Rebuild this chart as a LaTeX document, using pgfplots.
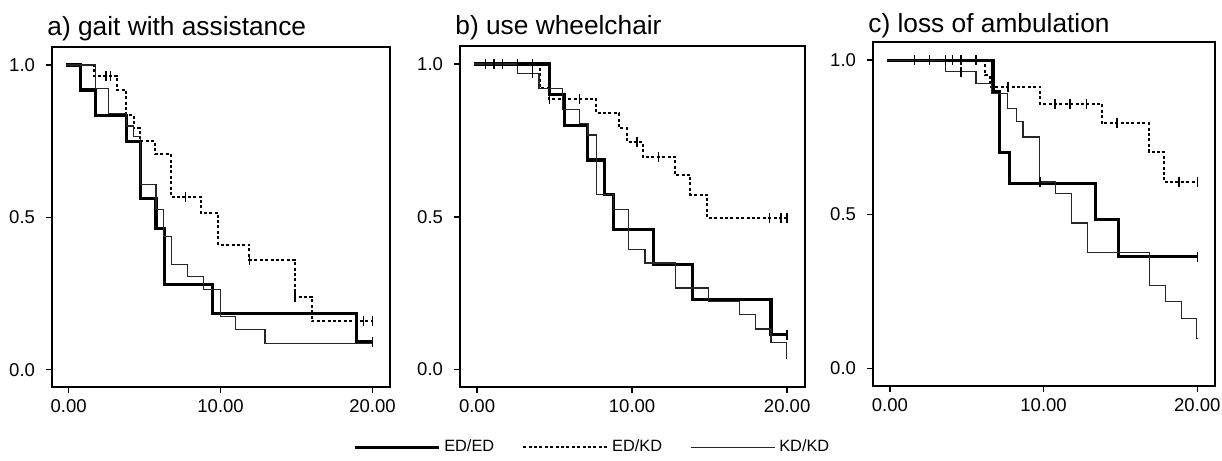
\documentclass[border=0pt]{standalone}
\usepackage{fontspec}
\setmainfont{Liberation Sans}
\usepackage{pgfplots}
\pgfplotsset{compat=1.18}

\pgfplotsset{
  km/.style={
    scale only axis,
    xmin=-1.1, xmax=21.15, ymin=-0.057, ymax=1.059,
    xtick={0,10,20}, xticklabels={0.00,10.00,20.00},
    ytick={0,0.5,1}, yticklabels={0.0,0.5,1.0},
    tick pos=left, tick align=outside, major tick length=3bp,
    axis line style={line width=0.9bp},
    tick style={line width=0.7bp, black},
    tick label style={font=\fontsize{9.3}{11}\selectfont},
    yticklabel style={xshift=-2bp},
    title style={at={(0,1)}, anchor=base west, xshift=-2.5bp, yshift=0bp,
      inner sep=0pt, font=\fontsize{13.2}{15}\selectfont},
  },
  eded/.style={const plot, black, line width=1.6bp, no marks},
  edkd/.style={const plot, black, line width=1bp, dash pattern=on 1.5bp off 1.2bp, no marks},
  kdkd/.style={const plot, black!85, line width=0.6bp, no marks},
  cens/.style={only marks, mark=|, mark size=2.5bp, black,
    mark options={solid, line width=0.8bp}, forget plot},
}

\begin{document}
\begin{tikzpicture}
\useasboundingbox (0,0) rectangle (611bp,230.5bp);

% a) gait with assistance
\begin{axis}[km, at={(26bp,37bp)}, anchor=south west,
  width=169bp, height=170bp, title={a) gait with assistance}]
\addplot[eded] coordinates {(-0.2,1) (0.77,0.918) (1.75,0.834) (3.79,0.749) (4.71,0.561)
  (5.74,0.464) (6.29,0.279) (9.46,0.184) (18.95,0.091) (20,0.091)};
\addplot[edkd] coordinates {(-0.2,1) (1.64,0.964) (3.18,0.918) (3.79,0.836) (4.27,0.792)
  (4.71,0.749) (5.7,0.708) (6.72,0.568) (8.7,0.514) (9.86,0.41) (11.9,0.361) (14.9,0.24)
  (16.0,0.158) (20,0.158)};
\addplot[kdkd] coordinates {(-0.2,1) (1.75,0.923) (2.63,0.842) (3.79,0.80) (4.27,0.765)
  (4.71,0.607) (5.74,0.525) (6.24,0.437) (6.79,0.346) (7.84,0.306) (8.87,0.262) (9.97,0.175)
  (10.97,0.131) (12.92,0.087) (20,0.087)};
\addplot[cens] coordinates {(2.45,0.964) (2.75,0.964) (7.7,0.568) (11.9,0.361) (14.9,0.24)
  (19.4,0.158) (20,0.158) (20,0.091)};
\end{axis}

% b) use wheelchair
\begin{axis}[km, at={(230bp,37bp)}, anchor=south west,
  width=172.5bp, height=170.5bp, title={b) use wheelchair},
  legend columns=3,
  legend style={at={(0.386,-0.177)}, anchor=center, draw=none, fill=none,
    font=\fontsize{8.2}{10}\selectfont,
    /tikz/every even column/.append style={column sep=12bp}},
  legend image code/.code={\draw[#1] (0bp,0bp) -- (42bp,0bp);}]
\addplot[eded] coordinates {(-0.2,1) (4.66,0.899) (5.63,0.80) (7.1,0.686) (8.23,0.572)
  (8.78,0.458) (11.38,0.343) (13.87,0.229) (18.96,0.114) (20,0.114)};
\addplot[edkd] coordinates {(-0.2,1) (4.08,0.92) (4.66,0.885) (7.69,0.839) (9.17,0.79)
  (9.64,0.746) (10.68,0.697) (12.74,0.637) (13.76,0.572) (14.84,0.496) (20,0.496)};
\addplot[kdkd] coordinates {(-0.2,1) (2.6,0.97) (4.0,0.92) (5.53,0.85) (6.6,0.806)
  (7.15,0.768) (7.69,0.572) (8.78,0.523) (9.75,0.392) (10.83,0.349) (12.78,0.267)
  (14.95,0.223) (16.9,0.18) (17.98,0.133) (18.96,0.089) (19.95,0.035) (20,0.035)};
\addplot[cens] coordinates {(0.54,1) (1.08,1) (1.63,1) (2.6,1) (3.58,1) (3.58,0.97)
  (4.66,0.885) (5.63,0.885) (6.6,0.885) (10.3,0.746) (11.7,0.697) (18.85,0.496)
  (19.6,0.496) (20,0.496) (20,0.114)};
\legend{ED/ED,ED/KD,KD/KD}
\end{axis}

% c) loss of ambulation
\begin{axis}[km, at={(436.5bp,37.5bp)}, anchor=south west,
  width=171bp, height=172bp, title={c) loss of ambulation},
  title style={yshift=-1bp}]
\addplot[eded] coordinates {(-0.2,1) (6.7,0.897) (7.15,0.70) (7.77,0.60) (13.35,0.483)
  (14.87,0.362) (20,0.362)};
\addplot[edkd] coordinates {(-0.2,1) (6.2,0.951) (6.5,0.914) (9.75,0.859) (13.78,0.795)
  (16.84,0.703) (17.82,0.605) (20,0.605)};
\addplot[kdkd] coordinates {(-0.2,1) (3.64,0.962) (5.6,0.924) (6.6,0.892) (7.67,0.843)
  (8.22,0.80) (8.66,0.751) (9.75,0.605) (10.75,0.568) (11.82,0.472) (12.85,0.376)
  (16.9,0.27) (17.93,0.216) (18.95,0.162) (19.95,0.097) (20,0.097)};
\addplot[cens] coordinates {(1.6,1) (2.58,1) (3.62,1) (4.08,1) (4.62,1) (5.6,1)
  (4.62,0.962) (7.67,0.914) (9.75,0.605) (10.73,0.859) (11.71,0.859) (12.8,0.859)
  (14.77,0.795) (18.8,0.605) (20,0.605) (20,0.362)};
\end{axis}
\end{tikzpicture}
\end{document}
